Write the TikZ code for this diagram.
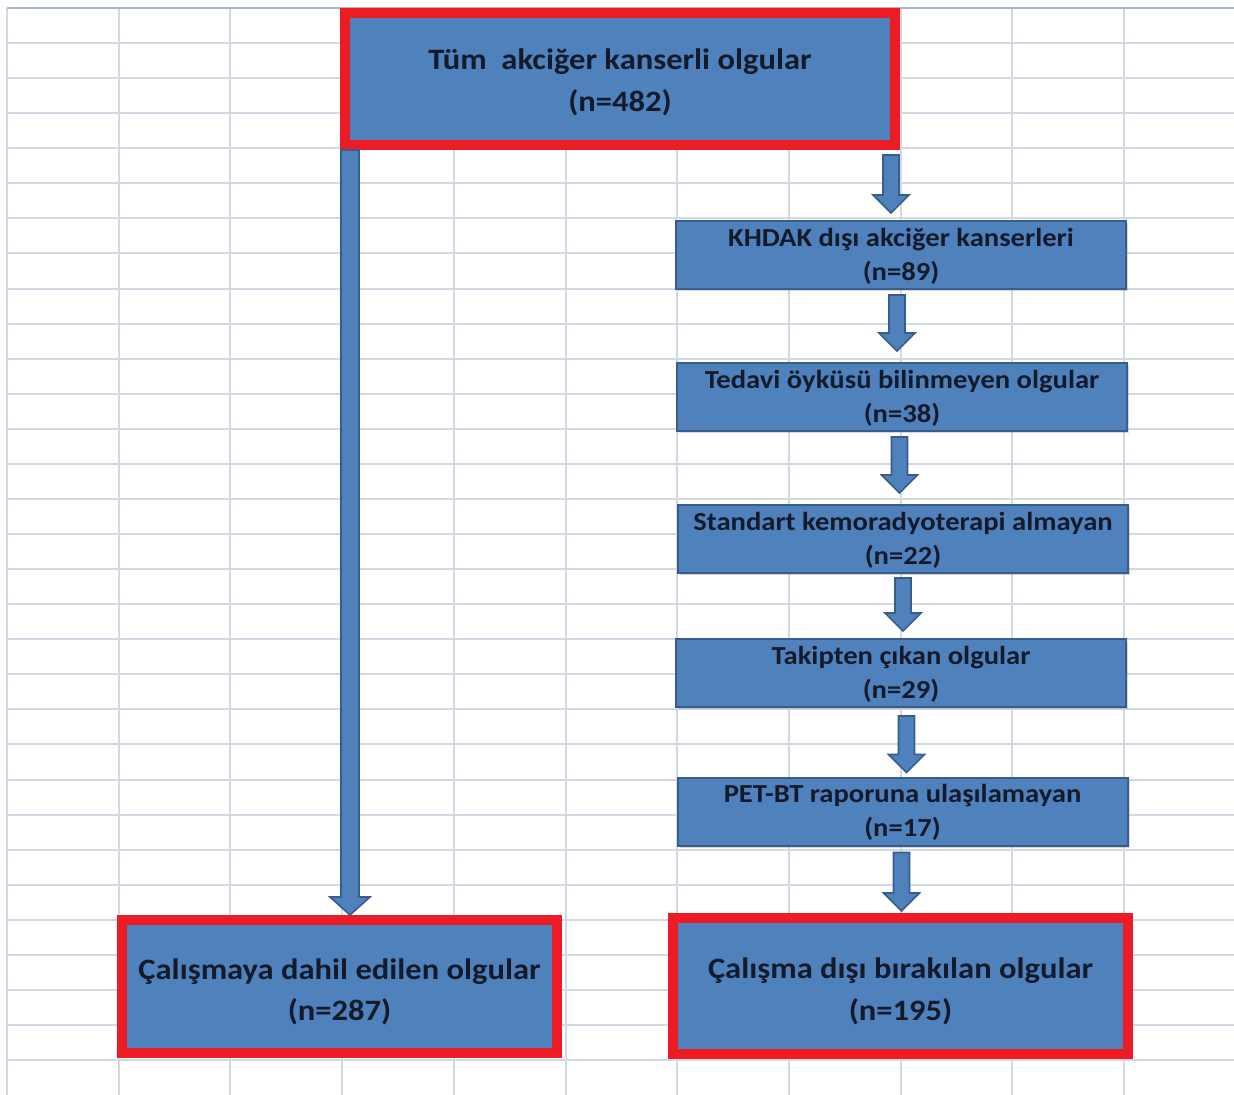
\documentclass[tikz,border=0pt]{standalone}
\usepackage{fontspec}
\setmainfont{Carlito}
\newfontfamily\boxfont[FakeStretch=1.1]{Carlito}
\usetikzlibrary{calc,shadows}
\definecolor{xlblue}{HTML}{4F81BD}
\definecolor{xldark}{HTML}{385D8A}
\definecolor{xlred}{HTML}{ED1C24}
\definecolor{xlgrid}{HTML}{D3D9E4}
\definecolor{xltop}{HTML}{A9B8CC}
\definecolor{txt}{HTML}{141A2A}
\newcommand\blockarr[5]{%
  \draw[barrow] let \p1=(#1),\p2=(#2) in
    (\x1-#3,\y1) -- (\x1+#3,\y1) -- (\x1+#3,\y2+#5) -- (\x1+#4,\y2+#5)
    -- (\x1,\y2) -- (\x1-#4,\y2+#5) -- (\x1-#3,\y2+#5) -- cycle;}
\newcommand\lowtext[2]{\raisebox{#1}[\height][\depth]{\begin{tabular}{@{}c@{}}#2\end{tabular}}}
\begin{document}
\begin{tikzpicture}[x=0.5pt,y=-0.5pt,
  gridline/.style={draw=xlgrid,line width=1pt},
  redbox/.style={draw=xlred,fill=xlblue,line width=5pt,inner sep=0pt,align=center,text=txt,
    font=\boxfont\bfseries\fontsize{14.8pt}{20.8pt}\selectfont,
    drop shadow={opacity=0.25,shadow xshift=1.5pt,shadow yshift=-1.5pt}},
  stepbox/.style={draw=xldark,fill=xlblue,line width=1pt,inner sep=0pt,align=center,text=txt,
    font=\boxfont\bfseries\fontsize{13pt}{17pt}\selectfont,
    minimum width=225pt,minimum height=34pt,
    drop shadow={opacity=0.3,shadow xshift=1pt,shadow yshift=-1pt}},
  barrow/.style={draw=xldark,fill=xlblue,line width=0.8pt,line join=miter}]
\useasboundingbox (0,0) rectangle (1234,1095);
\fill[white] (0,0) rectangle (1234,1095);
% spreadsheet grid
\foreach \i in {0,...,10} \draw[gridline] ({7+111.7*\i},8) -- ({7+111.7*\i},1095);
\foreach \j in {1,...,30} \draw[gridline] (7,{8+35.07*\j}) -- (1234,{8+35.07*\j});
\draw[draw=xltop,line width=1pt] (7,8) -- (1234,8);
% boxes
\node[redbox,minimum width=275pt,minimum height=66pt] (top) at (620,79)
  {\lowtext{-1.5pt}{Tüm\ \ akciğer kanserli olgular\\(n=482)}};
\node[stepbox] (b1) at (901,255) {\lowtext{-0.7pt}{KHDAK dışı akciğer kanserleri\\(n=89)}};
\node[stepbox] (b2) at (902,397) {\lowtext{-0.7pt}{Tedavi öyküsü bilinmeyen olgular\\(n=38)}};
\node[stepbox] (b3) at (903,539) {\lowtext{-0.7pt}{Standart kemoradyoterapi almayan\\(n=22)}};
\node[stepbox] (b4) at (901,673) {\lowtext{-0.7pt}{Takipten çıkan olgular\\(n=29)}};
\node[stepbox] (b5) at (902.5,811.5) {\lowtext{-0.7pt}{PET-BT raporuna ulaşılamayan\\(n=17)}};
\node[redbox,minimum width=217.5pt,minimum height=66.5pt] (incl) at (339.5,986.5)
  {\lowtext{-2.5pt}{Çalışmaya dahil edilen olgular\\(n=287)}};
\node[redbox,minimum width=227.5pt,minimum height=68pt] (excl) at (900.5,986)
  {\lowtext{-2.5pt}{Çalışma dışı bırakılan olgular\\(n=195)}};
% arrow columns
\coordinate (xl) at (350,0);
\coordinate (x0) at (891,0);
\coordinate (x1) at (897,0);
\coordinate (x2) at (899.5,0);
\coordinate (x3) at (903,0);
\coordinate (x4) at (906.5,0);
\coordinate (x5) at (901.5,0);
\coordinate (als) at (top.south -| xl);
\coordinate (ale) at (incl.north -| xl);
\coordinate (a0s) at ($(top.south -| x0)+(0,5)$);
\coordinate (a0e) at ($(b1.north -| x0)+(0,-7)$);
\coordinate (a1s) at ($(b1.south -| x1)+(0,5)$);
\coordinate (a1e) at ($(b2.north -| x1)+(0,-11)$);
\coordinate (a2s) at ($(b2.south -| x2)+(0,5)$);
\coordinate (a2e) at ($(b3.north -| x2)+(0,-11)$);
\coordinate (a3s) at ($(b3.south -| x3)+(0,4)$);
\coordinate (a3e) at ($(b4.north -| x3)+(0,-7)$);
\coordinate (a4s) at ($(b4.south -| x4)+(0,8)$);
\coordinate (a4e) at ($(b5.north -| x4)+(0,-4)$);
\coordinate (a5s) at ($(b5.south -| x5)+(0,6)$);
\coordinate (a5e) at ($(excl.north -| x5)+(0,-2)$);
\blockarr{als}{ale}{4.5pt}{10pt}{9pt}
\blockarr{a0s}{a0e}{4pt}{9pt}{9pt}
\blockarr{a1s}{a1e}{4pt}{9pt}{9pt}
\blockarr{a2s}{a2e}{4pt}{9pt}{9pt}
\blockarr{a3s}{a3e}{4pt}{9pt}{9pt}
\blockarr{a4s}{a4e}{4pt}{9pt}{9pt}
\blockarr{a5s}{a5e}{4pt}{9pt}{9pt}
\end{tikzpicture}
\end{document}
